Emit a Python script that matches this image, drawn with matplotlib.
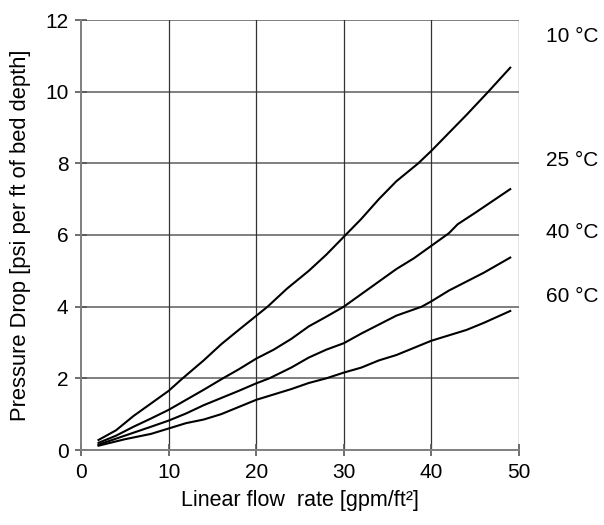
import matplotlib
matplotlib.use("Agg")
import matplotlib.pyplot as plt

plt.rcParams['font.family'] = ['Liberation Sans', 'DejaVu Sans']

x10 = [2, 4, 6, 8, 10, 11.6, 14, 16, 18, 21.3, 23.5, 26, 28, 30, 32, 34, 36, 38.5, 40, 42, 44, 46.5, 49]
y10 = [0.28, 0.55, 0.95, 1.3, 1.65, 2.0, 2.5, 2.95, 3.35, 4.0, 4.5, 5.0, 5.45, 5.95, 6.45, 7.0, 7.5, 8.0, 8.35, 8.85, 9.35, 10.0, 10.67]

x25 = [2, 4, 6, 8, 10, 12, 14, 16.2, 18, 20, 22, 24, 26, 28, 30, 32, 34, 36, 38, 40, 42, 43, 45, 47, 49]
y25 = [0.2, 0.4, 0.65, 0.88, 1.12, 1.4, 1.68, 2.0, 2.25, 2.55, 2.8, 3.1, 3.45, 3.72, 4.0, 4.35, 4.7, 5.05, 5.35, 5.7, 6.05, 6.3, 6.62, 6.95, 7.28]

x40 = [2, 5, 8, 10, 12, 14, 16, 18, 20, 21.5, 24, 26, 28, 30, 32, 34, 36, 38.9, 40, 42, 44, 46, 49]
y40 = [0.15, 0.4, 0.65, 0.82, 1.02, 1.25, 1.45, 1.65, 1.86, 2.0, 2.3, 2.58, 2.8, 2.98, 3.25, 3.5, 3.75, 4.0, 4.15, 4.45, 4.7, 4.95, 5.37]

x60 = [2, 5, 8, 10, 12, 14, 16, 18, 20, 22, 24, 26, 28, 30, 32, 34, 36, 38, 40, 42, 44, 46, 49]
y60 = [0.12, 0.3, 0.45, 0.6, 0.75, 0.85, 1.0, 1.2, 1.4, 1.55, 1.7, 1.87, 2.0, 2.16, 2.3, 2.5, 2.65, 2.85, 3.05, 3.2, 3.35, 3.55, 3.88]

labels = ['10 °C', '25 °C', '40 °C', '60 °C']
label_y = [11.55, 8.09, 6.06, 4.27]

xticks = [0, 10, 20, 30, 40, 50]
yticks = [0, 2, 4, 6, 8, 10, 12]

fig = plt.figure(figsize=(6.04, 5.25), dpi=100)
ax = fig.add_axes([81/604, 1 - 450/525, 438/604, 430/525])

for y in yticks[1:]:
    ax.axhline(y, color='#7f7f7f', lw=1.4, zorder=1)
for x in xticks[1:]:
    ax.axvline(x, color='#333333', lw=0.9, zorder=1)

for xs, ys in [(x10, y10), (x25, y25), (x40, y40), (x60, y60)]:
    ax.plot(xs, ys, color='black', lw=1.5, zorder=3)

ax.set_xlim(0, 50)
ax.set_ylim(0, 12)
ax.set_xticks(xticks)
ax.set_yticks(yticks)
for s in ['top', 'right']:
    ax.spines[s].set_visible(False)
for s in ['left', 'bottom']:
    ax.spines[s].set_color('#7f7f7f')
    ax.spines[s].set_linewidth(1.4)
ax.tick_params(direction='inout', length=8, width=1.2, color='#555555', labelsize=15, pad=5)

for lab, ly in zip(labels, label_y):
    ax.text(53.1, ly, lab, fontsize=15, va='center', ha='left', clip_on=False)

ax.set_xlabel('Linear flow  rate [gpm/ft²]', fontsize=15.5, labelpad=6)
ax.set_ylabel('Pressure Drop [psi per ft of bed depth]', fontsize=15.8, labelpad=10)

fig.savefig('out.png', dpi=100)
